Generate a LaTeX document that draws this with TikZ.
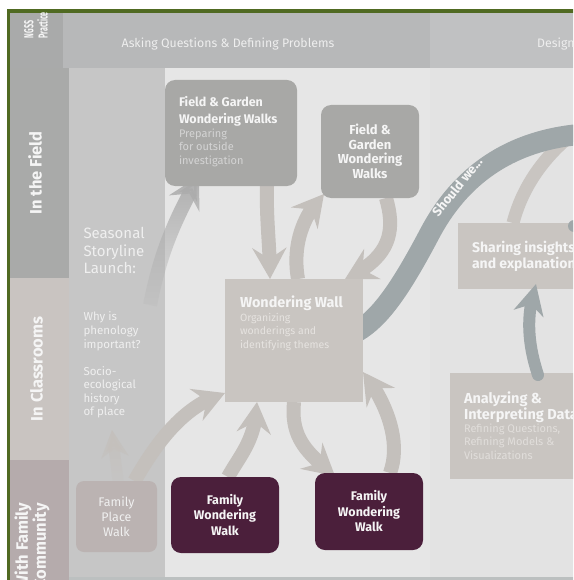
\documentclass[tikz,border=0pt]{standalone}
\usepackage{fontspec}
\setmainfont{Fira Sans}
\usetikzlibrary{arrows.meta,bending,fadings}
\pgfdeclarelayer{backdrop}
\pgfdeclarelayer{flows}
\pgfsetlayers{backdrop,flows,main}
\definecolor{framegreen}{HTML}{506A22}
\definecolor{hdrdark}{HTML}{A9AAAA}
\definecolor{hdrmid}{HTML}{B7B8B9}
\definecolor{hdrlight}{HTML}{C0C1C2}
\definecolor{rowfield}{HTML}{A9AAA9}
\definecolor{rowclass}{HTML}{C9C4C1}
\definecolor{rowfam}{HTML}{B5ABAC}
\definecolor{colseason}{HTML}{C6C6C6}
\definecolor{colmain}{HTML}{E6E6E6}
\definecolor{colright}{HTML}{E3E3E3}
\definecolor{bottomline}{HTML}{BCC0C0}
\definecolor{boxgray}{HTML}{A8A8A6}
\definecolor{boxbeige}{HTML}{C9C5C1}
\definecolor{famplum}{HTML}{4B1F3B}
\definecolor{famplace}{HTML}{BBB3B2}
\definecolor{flowgray}{HTML}{C4C0BC}
\definecolor{risegray}{HTML}{ACACAC}
\definecolor{slateblue}{HTML}{9FA7A9}
\definecolor{softwhite}{HTML}{F5F5F5}
\definecolor{subgray}{HTML}{D4D4D4}
\definecolor{subbeige}{HTML}{E6E3E0}
\definecolor{hdrtext}{HTML}{EEEEEE}
\tikzfading[name=riseup, top color=transparent!0, bottom color=transparent!90]
\tikzset{
  rbox/.style={draw=none, rounded corners=10pt, inner sep=0pt, outer sep=0pt},
  sbox/.style={draw=none, inner sep=0pt, outer sep=0pt},
  txt/.style={inner sep=0pt, outer sep=0pt, align=left, text=softwhite},
  rowlab/.style={inner sep=0pt, outer sep=0pt, rotate=90, text=softwhite, align=center,
    font=\bfseries\fontsize{16.5}{17}\selectfont},
  flow/.style={draw=flowgray, line width=14pt, -{Stealth[length=31pt,width=34pt,inset=11pt]}},
  smallflow/.style={draw=flowgray, line width=11pt, -{Stealth[length=27pt,width=27pt,inset=8pt]}},
}
\begin{document}
\begin{tikzpicture}[x=1pt,y=-1pt]
\useasboundingbox (0,0) rectangle (573,580);
\begin{pgfonlayer}{backdrop}
  \clip (0,0) rectangle (573,580);
  \fill[white] (0,0) rectangle (573,580);
  \fill[framegreen] (7,9) rectangle (580,13);
  \fill[framegreen] (7,9) rectangle (10,580);
  \fill[hdrdark] (10,13) rectangle (63,68);
  \fill[hdrmid] (63,13) rectangle (430,68);
  \fill[hdrlight] (430,13) rectangle (580,68);
  \fill[rowfield] (10,68) rectangle (69,278);
  \fill[rowclass] (10,278) rectangle (69,460);
  \fill[rowfam] (10,460) rectangle (69,580);
  \fill[colseason] (69,68) rectangle (165,577);
  \fill[colmain] (165,68) rectangle (430,577);
  \fill[colright] (430,68) rectangle (580,577);
  \fill[bottomline] (69,577) rectangle (580,580);
\end{pgfonlayer}
\clip (0,0) rectangle (573,580);
% header texts
\node[inner sep=0pt, text=hdrtext, font=\fontsize{12.3}{14}\selectfont] (hdrask) at (228,44) {Asking Questions \& Defining Problems};
\node[inner sep=0pt, anchor=west, text=hdrtext, font=\fontsize{12.3}{14}\selectfont] (hdrdesign) at (537,44) {Design};
\begin{scope}
  \clip (10,13) rectangle (63,68);
  \node[inner sep=0pt, rotate=90, anchor=north west, text=softwhite, font=\bfseries\fontsize{13}{12}\selectfont] (ngss) at (24,38.5)
    {\scalebox{0.55}[1]{\begin{tabular}{@{}l@{}}NGSS\\Practices\end{tabular}}};
\end{scope}
% row labels
\node[rowlab] (lblfield) at (35,173) {In the Field};
\node[rowlab] (lblclass) at (36.5,369) {In Classrooms};
\node[rowlab] (lblfamily) at (32,546) {With Family\\Community};
% seasonal column texts
\node[txt, anchor=north west, text=softwhite!95!gray, font=\fontsize{15}{17.5}\selectfont] (season) at (83.5,227.5) {Seasonal\\Storyline\\Launch:};
\node[txt, anchor=north west, text=softwhite!95!gray, font=\fontsize{11.5}{14}\selectfont] (whyis) at (83.5,312) {Why is\\phenology\\important?};
\node[txt, anchor=north west, text=softwhite!95!gray, font=\fontsize{11.5}{13.5}\selectfont] (socio) at (83.5,366.5) {Socio-\\ecological\\history\\of place};
% boxes
\node[rbox, fill=boxgray, minimum width=132pt, minimum height=106pt] (fg1) at (231,133) {};
\node[txt, anchor=north west, font=\bfseries\fontsize{12.5}{17}\selectfont] (fg1title) at (179,96.5) {Field \& Garden\\Wondering Walks};
\node[txt, anchor=north west, text=subgray, font=\fontsize{11}{13.5}\selectfont] (fg1sub) at (179,128.5) {Preparing\\for outside\\investigation};
\node[rbox, fill=boxgray, minimum width=98pt, minimum height=93pt, align=center, text=softwhite,
  font=\bfseries\fontsize{13}{14.5}\selectfont] (fg2) at (370,151.5) {Field \&\\Garden\\Wondering\\Walks};
\node[sbox, fill=boxbeige, minimum width=138pt, minimum height=123pt] (wall) at (294,340.5) {};
\node[txt, anchor=north west, font=\bfseries\fontsize{14.4}{16}\selectfont] (walltitle) at (240,296) {Wondering Wall};
\node[txt, anchor=north west, text=subbeige, font=\fontsize{10.5}{13.5}\selectfont] (wallsub) at (240,313) {Organizing\\wonderings and\\identifying themes};
\node[rbox, fill=famplum, minimum width=108pt, minimum height=76pt, align=center, text=softwhite,
  font=\bfseries\fontsize{12.5}{15.5}\selectfont] (fww1) at (225,515) {Family\\Wondering\\Walk};
\node[rbox, fill=famplum, minimum width=108pt, minimum height=77pt, align=center, text=softwhite,
  font=\bfseries\fontsize{12.5}{15.5}\selectfont] (fww2) at (369,511.5) {Family\\Wondering\\Walk};
\node[rbox, rounded corners=8pt, fill=famplace, minimum width=81pt, minimum height=71pt, align=center, text=softwhite!92!famplace,
  font=\fontsize{12.5}{15}\selectfont] (fpw) at (116.5,516.5) {Family\\Place\\Walk};
\node[sbox, fill=boxbeige, minimum width=142pt, minimum height=66pt] (share) at (529,256) {};
\node[txt, anchor=north west, font=\bfseries\fontsize{14}{16}\selectfont] (sharetext) at (472,241) {Sharing insights\\and explanations};
\node[sbox, fill=boxbeige, minimum width=150pt, minimum height=106pt] (analyze) at (525,426) {};
\node[txt, anchor=north west, font=\bfseries\fontsize{14.5}{16}\selectfont] (analyzetitle) at (464,391.5) {Analyzing \&\\Interpreting Data};
\node[txt, anchor=north west, text=subbeige!95!gray, font=\fontsize{11}{13.5}\selectfont] (analyzesub) at (464,423.5) {Refining Questions,\\Refining Models \&\\Visualizations};
% free ends
\coordinate (a1start) at (150,305);
\coordinate (a9tip) at (112,430);
\coordinate (curveend) at (585,134);
\coordinate (arcend) at (592,120);
\coordinate (bluedot) at (574,226);
% connectors under the boxes
\begin{pgfonlayer}{flows}
  \clip (0,0) rectangle (573,580);
  \draw[flow, draw=risegray, path fading=riseup] (a1start) .. controls (160,255) and (172,225) .. ([xshift=34pt,yshift=10pt]fg1.south west);
  \draw[flow] ([xshift=36pt]fg1.south) .. controls (266,220) and (270,245) .. ([xshift=-24pt]wall.north);
  \draw[flow] ([xshift=4pt]wall.north) .. controls (292,245) and (303,215) .. ([xshift=3pt,yshift=4pt]fg2.south west);
  \draw[flow] ([xshift=16pt]fg2.south) .. controls (396,232) and (390,258) .. ([xshift=-18pt]wall.north east);
  \draw[flow] ([xshift=18pt]fpw.north) .. controls (158,440) and (185,405) .. ([yshift=9pt]wall.south west);
  \draw[flow] ([xshift=3pt]fww1.north) .. controls (240,455) and (256,440) .. ([xshift=-37pt]wall.south);
  \draw[flow] (wall.south) .. controls (290,440) and (310,455) .. ([xshift=20pt,yshift=-3pt]fww2.north west);
  \draw[flow] ([xshift=-33pt]fww2.north east) .. controls (402,440) and (385,400) .. ([yshift=-31.5pt]wall.east);
  \draw[smallflow, path fading=riseup] ([xshift=1.5pt]fpw.north) .. controls (116,460) and (113,445) .. (a9tip);
  \draw[draw=boxbeige, line width=13pt] ([xshift=-16pt]share.north) .. controls (522,188) and (545,150) .. (arcend);
  \draw[draw=slateblue, line width=21pt] ([xshift=-6pt,yshift=9pt]wall.east) .. controls (380,318) and (400,290) .. (430,233)
     .. controls (455,186) and (500,140) .. (curveend);
\end{pgfonlayer}
\node[inner sep=0pt, rotate=51, text=softwhite, font=\bfseries\fontsize{13}{14}\selectfont] (shouldwe) at (457,187) {Should we...};
% connectors over the boxes
\draw[draw=slateblue, line width=12pt, line cap=round, -{Stealth[length=30pt,width=30pt,inset=9pt]}]
  ([xshift=13pt,yshift=-2pt]analyze.north) .. controls (530,350) and (524,320) .. ([xshift=7pt,yshift=5pt]share.south);
\fill[slateblue] (bluedot) circle (6pt);
\end{tikzpicture}
\end{document}
